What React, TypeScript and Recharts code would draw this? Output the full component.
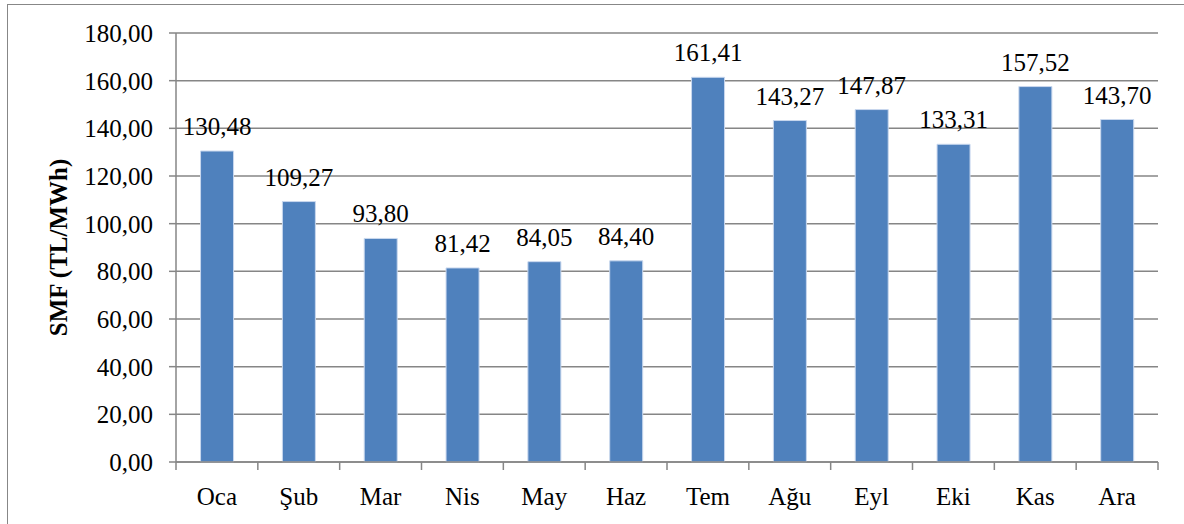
import React from 'react';
import { BarChart, Bar, XAxis, YAxis, CartesianGrid, LabelList, Label } from 'recharts';

const months = ['Oca', 'Şub', 'Mar', 'Nis', 'May', 'Haz', 'Tem', 'Ağu', 'Eyl', 'Eki', 'Kas', 'Ara'];
const smf = [130.48, 109.27, 93.8, 81.42, 84.05, 84.4, 161.41, 143.27, 147.87, 133.31, 157.52, 143.7];
const yTicks = [0, 20, 40, 60, 80, 100, 120, 140, 160, 180];
const yLabel = 'SMF (TL/MWh)';

const data = months.map((m, i) => ({ month: m, value: smf[i] }));

const FONT = '"Liberation Serif", "Times New Roman", serif';
const GRAY = '#868686';
const fmt = (v: number) => v.toFixed(2).replace('.', ',');

const XTick = (props: any) => {
  const { x, y, payload, index } = props;
  const off = payload && typeof payload.offset === 'number' ? payload.offset : 0;
  const last = index === months.length - 1;
  return (
    <g>
      <line x1={x - off} x2={x - off} y1={y} y2={y + 8} stroke={GRAY} strokeWidth={1.5} />
      {last && <line x1={x + off} x2={x + off} y1={y} y2={y + 8} stroke={GRAY} strokeWidth={1.5} />}
      <text x={x} y={y + 43} textAnchor="middle" fontFamily={FONT} fontSize={25} fill="#000">
        {payload.value}
      </text>
    </g>
  );
};

const YTick = (props: any) => {
  const { x, y, payload } = props;
  return (
    <text x={x} y={y} dy={9} textAnchor="end" fontFamily={FONT} fontSize={25} fill="#000">
      {fmt(Number(payload.value))}
    </text>
  );
};

const BarValue = (props: any) => {
  const { x, y, width, value } = props;
  return (
    <text x={x + width / 2} y={y - 16} textAnchor="middle" fontFamily={FONT} fontSize={25} fill="#000">
      {fmt(Number(value))}
    </text>
  );
};

const YLabel = (props: any) => {
  const vb = props.viewBox || { x: 0, y: 0, width: 0, height: 0 };
  const cx = vb.x + 58;
  const cy = vb.y + vb.height / 2;
  return (
    <text
      x={cx}
      y={cy}
      transform={`rotate(-90 ${cx} ${cy})`}
      textAnchor="middle"
      dominantBaseline="central"
      fontFamily={FONT}
      fontWeight="bold"
      fontSize={25}
      fill="#000"
    >
      {yLabel}
    </text>
  );
};

export default function App() {
  return (
    <div style={{ position: 'absolute', left: 0, top: 0, width: 1184, height: 524, background: '#fff', overflow: 'hidden', fontFamily: FONT }}>
      <div
        style={{
          position: 'absolute',
          left: 7,
          top: 4,
          width: 1200,
          height: 560,
          borderLeft: '1.5px solid #878787',
          borderTop: '1.5px solid #878787',
          boxSizing: 'border-box',
        }}
      />
      <div style={{ position: 'absolute', left: 0, top: 0 }}>
        <BarChart
          width={1184}
          height={524}
          data={data}
          margin={{ top: 33, right: 26, left: 0, bottom: 0 }}
          barCategoryGap="30%"
        >
          <CartesianGrid vertical={false} stroke={GRAY} strokeWidth={1.5} />
          <XAxis
            dataKey="month"
            axisLine={{ stroke: GRAY, strokeWidth: 1.5 }}
            tickLine={false}
            tickSize={0}
            tickMargin={0}
            height={62}
            interval={0}
            tick={<XTick />}
          />
          <YAxis
            width={176}
            domain={[0, 180]}
            ticks={yTicks}
            interval={0}
            axisLine={{ stroke: GRAY, strokeWidth: 1.5 }}
            tickLine={{ stroke: GRAY, strokeWidth: 1.5 }}
            tickSize={7}
            tickMargin={16}
            tick={<YTick />}
          >
            <Label content={<YLabel />} />
          </YAxis>
          <Bar dataKey="value" fill="#4F81BD" stroke="#c9d8ee" strokeWidth={1} isAnimationActive={false}>
            <LabelList dataKey="value" content={<BarValue />} />
          </Bar>
        </BarChart>
      </div>
    </div>
  );
}
